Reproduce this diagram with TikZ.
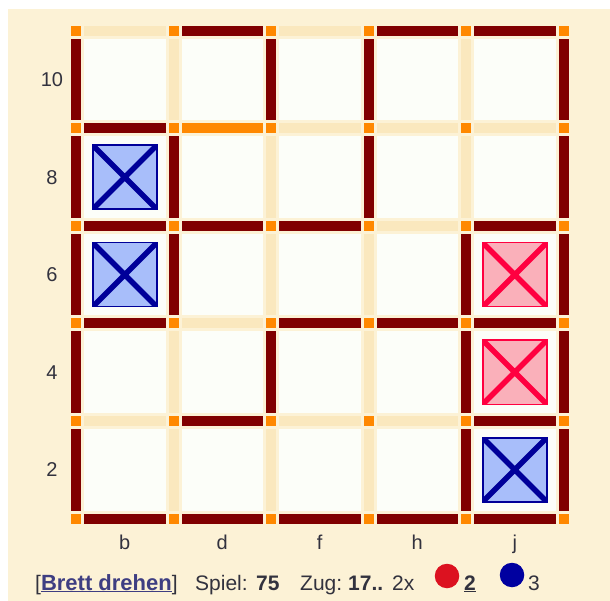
\documentclass[tikz,border=0pt]{standalone}
\usepackage{fontspec}
\setmainfont{Liberation Sans}
\usetikzlibrary{positioning}

\definecolor{boardbg}{RGB}{252,242,214}
\definecolor{cellfill}{RGB}{252,254,249}
\definecolor{lineopen}{RGB}{250,232,190}
\definecolor{linedrawn}{RGB}{128,0,0}
\definecolor{dotorange}{RGB}{255,136,0}
\definecolor{blueline}{RGB}{0,0,153}
\definecolor{bluefill}{RGB}{168,190,250}
\definecolor{redline}{RGB}{255,0,64}
\definecolor{redfill}{RGB}{250,176,186}
\definecolor{lbltext}{RGB}{50,50,62}
\definecolor{linktext}{RGB}{62,62,130}
\definecolor{redstone}{RGB}{220,18,32}
\definecolor{bluestone}{RGB}{0,0,160}

\begin{document}
\begin{tikzpicture}[
  x=1pt, y=-1pt,
  cell/.style={fill=cellfill},
  openline/.style={fill=lineopen},
  drawnline/.style={fill=linedrawn},
  lastmove/.style={fill=dotorange},
  gridpoint/.style={fill=dotorange},
  claimbox/.style={line width=1.5pt},
  claimcross/.style={line width=5.5pt},
  coordlbl/.style={font=\fontsize{20}{24}\selectfont, text=lbltext, inner sep=0pt},
  infotxt/.style={font=\fontsize{21}{25}\selectfont, text=lbltext,
    anchor=base west, inner sep=0pt},
  stone/.style={circle, fill=#1, minimum size=24.5pt, inner sep=0pt},
]

% --- Background ---
\fill[white] (0,0) rectangle (610,601);
\fill[boardbg] (8,9) rectangle (610,601);
\useasboundingbox (0,0) rectangle (610,601);

\begin{scope}[shift={(76,31)}]

% --- Cells ---
\foreach \i in {0,...,4}
  \foreach \j in {0,...,4}
    \fill[cell] ({97.5*\i+8},{97.5*\j+8}) rectangle ({97.5*(\i+1)-8},{97.5*(\j+1)-8});

% --- Open lines ---
\foreach \i in {0,...,4}
  \foreach \j in {0,...,5}
    \fill[openline] ({97.5*\i+8},{97.5*\j-5}) rectangle ({97.5*(\i+1)-8},{97.5*\j+5});
\foreach \i in {0,...,5}
  \foreach \j in {0,...,4}
    \fill[openline] ({97.5*\i-5},{97.5*\j+8}) rectangle ({97.5*\i+5},{97.5*(\j+1)-8});

% --- Drawn lines ---
\foreach \i/\j in {1/0,3/0,4/0, 0/1, 0/2,1/2,2/2,4/2, 0/3,2/3,3/3,4/3,
                   1/4,4/4, 0/5,1/5,2/5,3/5,4/5}
  \fill[drawnline] ({97.5*\i+8},{97.5*\j-5}) rectangle ({97.5*(\i+1)-8},{97.5*\j+5});
\foreach \i/\j in {0/0,2/0,3/0,5/0, 0/1,1/1,3/1,5/1, 0/2,1/2,4/2,5/2,
                   0/3,2/3,4/3,5/3, 0/4,4/4,5/4}
  \fill[drawnline] ({97.5*\i-5},{97.5*\j+8}) rectangle ({97.5*\i+5},{97.5*(\j+1)-8});

% last move
\fill[lastmove] ({97.5+8},{97.5-5}) rectangle ({195-8},{97.5+5});

% --- Grid points ---
\foreach \i in {0,...,5}
  \foreach \j in {0,...,5}
    \fill[gridpoint] ({97.5*\i-5},{97.5*\j-5}) rectangle +(10,10);

% --- Claimed boxes ---
\foreach \i/\j/\ln/\fl in {0/1/blueline/bluefill, 0/2/blueline/bluefill,
    4/2/redline/redfill, 4/3/redline/redfill, 4/4/blueline/bluefill} {
  \coordinate (box) at ({97.5*\i+48.75},{97.5*\j+48.75});
  \fill[\fl] ([shift={(-32,-32)}]box) rectangle ([shift={(32,32)}]box);
  \begin{scope}
    \clip ([shift={(-32,-32)}]box) rectangle ([shift={(32,32)}]box);
    \draw[claimcross, draw=\ln]
      ([shift={(-32,-32)}]box) -- ([shift={(32,32)}]box)
      ([shift={(-32,32)}]box) -- ([shift={(32,-32)}]box);
  \end{scope}
  \draw[claimbox, draw=\ln] ([shift={(-32,-32)}]box) rectangle ([shift={(32,32)}]box);
}

% --- Coordinates ---
\foreach \j/\lbl in {0/10,1/8,2/6,3/4,4/2}
  \node[coordlbl] (row\lbl) at (-24,{97.5*\j+48.75}) {\lbl};
\foreach \i/\lbl in {0/b,1/d,2/f,3/h,4/j}
  \node[coordlbl, anchor=base] (col\lbl) at ({97.5*\i+48.75},518) {\lbl};

\end{scope}

% --- Status line ---
\node[infotxt] (turnlink) at (35,590)
  {[\textcolor{linktext}{\fontsize{22}{25}\selectfont\textbf{\underline{Brett drehen}}}]};
\node[infotxt] (gamelbl) at (195,590) {Spiel:};
\node[infotxt] (gameno) at (256,590) {\textbf{75}};
\node[infotxt] (movelbl) at (300,590) {Zug:};
\node[infotxt] (moveno) at (348,590) {\textbf{17..}};
\node[infotxt] (movecnt) at (392,590) {2x};
\node[stone=redstone] (redmark) at (447,576) {};
\node[infotxt] (redscore) at (464,590) {\underline{\textbf{2}}};
\node[stone=bluestone] (bluemark) at (512,575) {};
\node[infotxt] (bluescore) at (528,590) {3};

\end{tikzpicture}
\end{document}
